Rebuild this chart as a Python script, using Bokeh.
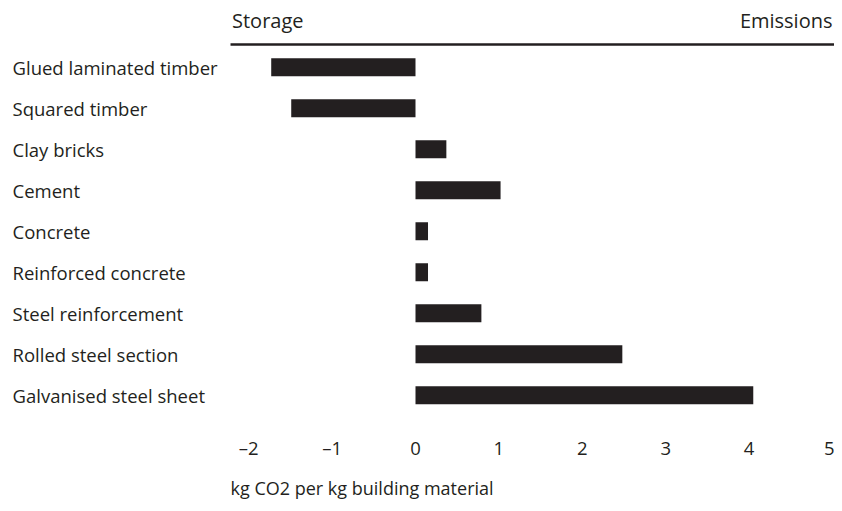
from bokeh.plotting import figure
from bokeh.models import Range1d, FixedTicker, ColumnDataSource, Title
from bokeh.core.properties import value
from bokeh.embed import file_html
from bokeh.resources import INLINE

categories = ["Glued laminated timber", "Squared timber", "Clay bricks", "Cement",
              "Concrete", "Reinforced concrete", "Steel reinforcement",
              "Rolled steel section", "Galvanised steel sheet"]
values = [-1.73, -1.49, 0.37, 1.02, 0.15, 0.15, 0.79, 2.48, 4.05]
x_ticks = [-2, -1, 0, 1, 2, 3, 4, 5]
x_min, x_max = -2.2, 5.0
left_header = "Storage"
right_header = "Emissions"
x_title = "kg CO2 per kg building material"

FONT = "Open Sans"
INK = "#231f20"

rows = list(range(len(categories)))
src = ColumnDataSource(dict(cat=categories, val=values, row=rows,
                            zero=[0] * len(values)))

p = figure(frame_width=834, frame_height=425, output_backend="svg",
           toolbar_location=None,
           x_range=Range1d(-4.976, 5.024), y_range=Range1d(8.739, -1.627),
           min_border_left=0, min_border_right=0, min_border_top=0,
           min_border_bottom=0)
p.outline_line_color = None
p.grid.visible = False
p.yaxis.visible = False
p.background_fill_color = "white"
p.border_fill_color = "white"

p.hbar(y="row", left="zero", right="val", height=0.44, source=src,
       fill_color=INK, line_color=None)

# category labels
p.text(x=-4.832, y="row", text="cat", source=src, text_font=value(FONT),
       text_font_size="18.5px", text_color=INK, text_align="left",
       text_baseline="middle")

# header line and labels
p.segment(x0=[x_min - 0.018], x1=[5.024], y0=[-0.554], y1=[-0.554],
          line_color=INK, line_width=2.5)
p.text(x=[x_min], y=[-1.139], text=[left_header], text_font=value(FONT),
       text_font_size="20px", text_color=INK, text_align="left",
       text_baseline="middle")
p.text(x=[x_max], y=[-1.139], text=[right_header], text_font=value(FONT),
       text_font_size="20px", text_color=INK, text_align="right",
       text_baseline="middle")

ax = p.xaxis[0]
ax.ticker = FixedTicker(ticks=x_ticks)
ax.major_label_overrides = {t: (str(t).replace("-", "\u2013")) for t in x_ticks}
ax.axis_line_color = None
ax.major_tick_line_color = None
ax.minor_tick_line_color = None
ax.major_tick_out = 0
ax.major_tick_in = 0
ax.major_label_standoff = 9
ax.major_label_text_font = FONT
ax.major_label_text_font_size = "18.5px"
ax.major_label_text_color = INK

t = Title(text=x_title, align="left", offset=230, standoff=23,
          text_font=FONT, text_font_size="18px", text_font_style="normal",
          text_color=INK)
p.add_layout(t, "below")

open("out.html", "w").write(file_html(p, INLINE))
